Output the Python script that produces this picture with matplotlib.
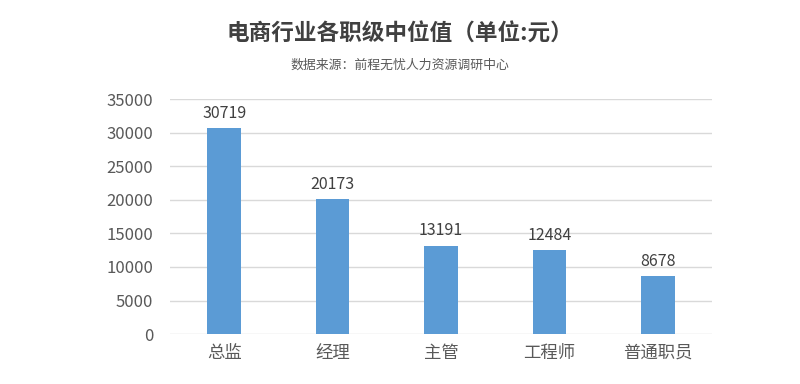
import matplotlib
matplotlib.use('Agg')
import matplotlib.pyplot as plt

plt.rcParams['font.family'] = ['Noto Sans CJK SC', 'DejaVu Sans']

categories = ['总监', '经理', '主管', '工程师', '普通职员']
values = [30719, 20173, 13191, 12484, 8678]
yticks = [0, 5000, 10000, 15000, 20000, 25000, 30000, 35000]

fig = plt.figure(figsize=(8, 3.84), dpi=100)
ax = fig.add_axes([0.2125, 0.13, 0.6775, 0.612])

x = range(len(categories))
bars = ax.bar(x, values, width=0.31, color='#5B9BD5', zorder=3)
for b, v in zip(bars, values):
    ax.text(b.get_x() + b.get_width() / 2, v + 900, str(v), ha='center', va='bottom',
            fontsize=11.5, color='#404040')

ax.set_xlim(-0.5, len(categories) - 0.5)
ax.set_ylim(0, 35000)
ax.set_yticks(yticks)
ax.set_yticklabels([str(t) for t in yticks], fontsize=12, color='#595959')
ax.set_xticks(list(x))
ax.set_xticklabels(categories, fontsize=12.5, color='#595959')
ax.tick_params(length=0, pad=7)
ax.tick_params(axis='y', pad=12)
ax.grid(axis='y', color='#d9d9d9', linewidth=1, zorder=0)
for s in ax.spines.values():
    s.set_visible(False)

fig.text(0.5, 0.91, '电商行业各职级中位值（单位:元）', ha='center', va='center',
         fontsize=16.3, fontweight='bold', color='#404040')
fig.text(0.5, 0.83, '数据来源：前程无忧人力资源调研中心', ha='center', va='center',
         fontsize=9.3, color='#595959')

fig.savefig('out.png', dpi=100, facecolor='white')
